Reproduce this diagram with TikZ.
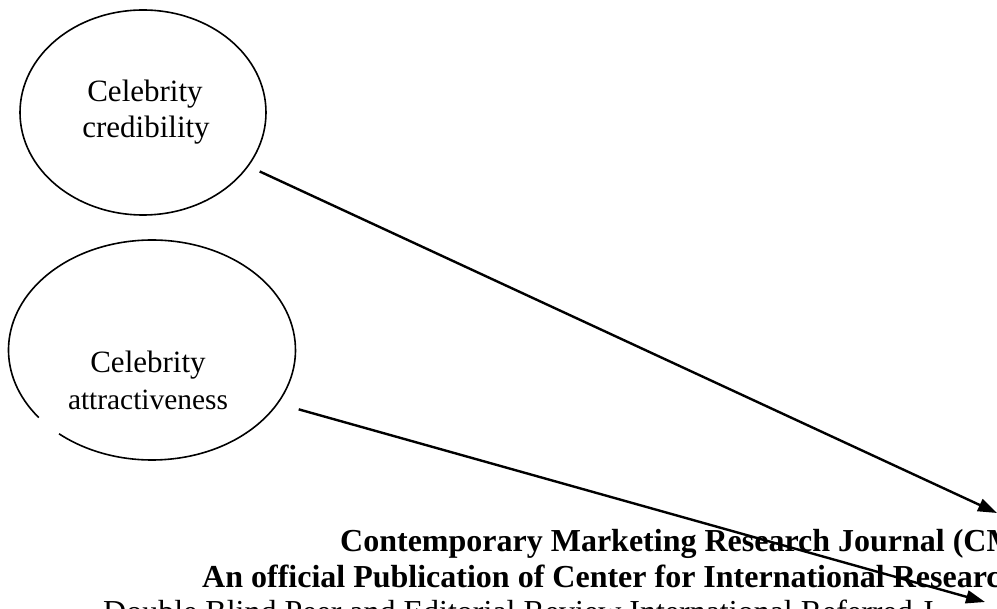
\documentclass[tikz,border=0pt]{standalone}
\usepackage{fontspec}
\setmainfont{Liberation Serif}
\usetikzlibrary{arrows.meta,shapes.geometric}
\begin{document}
\begin{tikzpicture}[x=1pt,y=-1pt,
  bubble/.style={ellipse, inner sep=0pt, line width=1.6pt},
  txt/.style={anchor=base, inner sep=0pt, font=\fontsize{31}{36}\selectfont},
  link/.style={line width=2.4pt, -{Triangle[length=19pt,width=13pt]}},
  hdr/.style={anchor=base west, inner sep=0pt, font=\fontsize{32}{37}\selectfont\bfseries},
  plain/.style={anchor=base west, inner sep=0pt, font=\fontsize{32}{37}\selectfont},
]
\useasboundingbox (0,0) rectangle (997,609);
\clip (0,0) rectangle (997,609);
% ellipses
\node[bubble, draw, minimum width=246pt, minimum height=205pt] (e1) at (143,112.5) {};
\node[bubble, minimum width=287pt, minimum height=220pt] (e2) at (152,350) {};
\draw[line width=1.6pt] ([shift={(229.6:143.5pt and 110pt)}]e2.center)
  arc[start angle=229.6, end angle=577.9, x radius=143.5pt, y radius=110pt];
% ellipse texts
\node[txt] (c1a) at (145,102) {Celebrity};
\node[txt] (c1b) at (146,138) {credibility};
\node[txt] (c2a) at (148,373) {Celebrity};
\node[txt, font=\fontsize{29.4}{34}\selectfont] (c2b) at (148,410) {attractiveness};
% journal header (cut off at the right and bottom edges, as in the source)
\node[hdr] (j1) at (340,552) {Contemporary Marketing Research Journal (CM};
\node[hdr] (j2) at (202,587) {An official Publication of Center for International Researc};
\node[plain] (j3) at (103,623) {Double Blind Peer and Editorial Review International Referred J};
% arrows
\coordinate (t1) at (997,513);
\coordinate (t2) at (985,602);
\draw[link, shorten <=12.2pt] (e1.-27.55) -- (t1);
\draw[link, shorten <=21.2pt] (e2.-23.6) -- (t2);
\end{tikzpicture}
\end{document}
